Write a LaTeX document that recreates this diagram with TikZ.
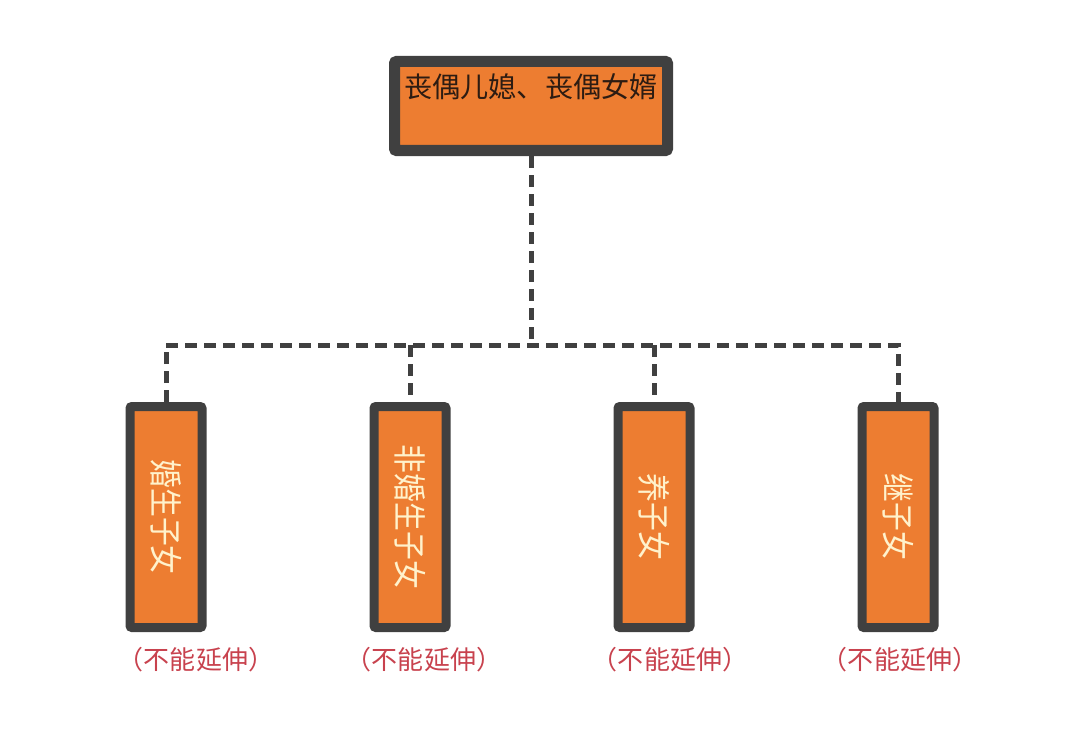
\documentclass[tikz,border=0pt]{standalone}
\usepackage{fontspec}
\newfontfamily\cjk{Noto Sans CJK SC}
\definecolor{boxorange}{RGB}{237,125,49}
\definecolor{boxedge}{RGB}{64,64,64}
\definecolor{kidtext}{RGB}{255,242,204}
\definecolor{notered}{RGB}{200,66,78}
\definecolor{toptext}{RGB}{45,28,18}

\begin{document}
\begin{tikzpicture}[
		parent/.style={draw=boxedge,fill=boxorange,line width=0.11cm,rounded corners=0.02cm,
			minimum width=2.73cm,minimum height=0.89cm,inner sep=0pt,
			text height=0.22cm,text depth=0.40cm,text=toptext,font=\cjk\fontsize{8pt}{9pt}\selectfont},
		kid/.style={draw=boxedge,fill=boxorange,line width=0.09cm,rounded corners=0.02cm,
			minimum width=0.72cm,minimum height=2.21cm,inner sep=0pt,
			text=kidtext,font=\cjk\fontsize{8.2pt}{9pt}\selectfont},
		note/.style={text=notered,inner sep=0pt,font=\cjk\fontsize{7.4pt}{8pt}\selectfont},
		link/.style={draw=boxedge,line width=0.05cm,dash pattern=on 0.12cm off 0.07cm}]
				\useasboundingbox (0,0) rectangle (10.8,7.47);
				\node[parent] (top) at (5.31,6.41) {丧偶儿媳、丧偶女婿};
				
				\node[kid] (b1) at (1.66,2.30) {\scalebox{1.15}[1]{\rotatebox{-90}{婚生子女}}};
				\node[kid] (b2) at (4.10,2.30) {\scalebox{1.15}[1]{\rotatebox{-90}{非婚生子女}}};
				\node[kid] (b3) at (6.54,2.30) {\scalebox{1.15}[1]{\rotatebox{-90}{养子女}}};
				\node[kid] (b4) at (8.98,2.30) {\scalebox{1.15}[1]{\rotatebox{-90}{继子女}}};
				
				\node[note] (n1) at (1.96,0.87) {（不能延伸）};
				\node[note] (n2) at (4.24,0.87) {（不能延伸）};
				\node[note] (n3) at (6.70,0.87) {（不能延伸）};
				\node[note] (n4) at (9.00,0.87) {（不能延伸）};
				
				\coordinate (bus) at (5.31,4.02);
				\draw[link] (top.south) -- (bus);
				\draw[link] (b1.north) |- (b4.north |- bus) -- (b4.north);
				\draw[link] (b2.north |- bus) -- (b2.north);
				\draw[link] (b3.north |- bus) -- (b3.north);
			\end{tikzpicture}
\end{document}
